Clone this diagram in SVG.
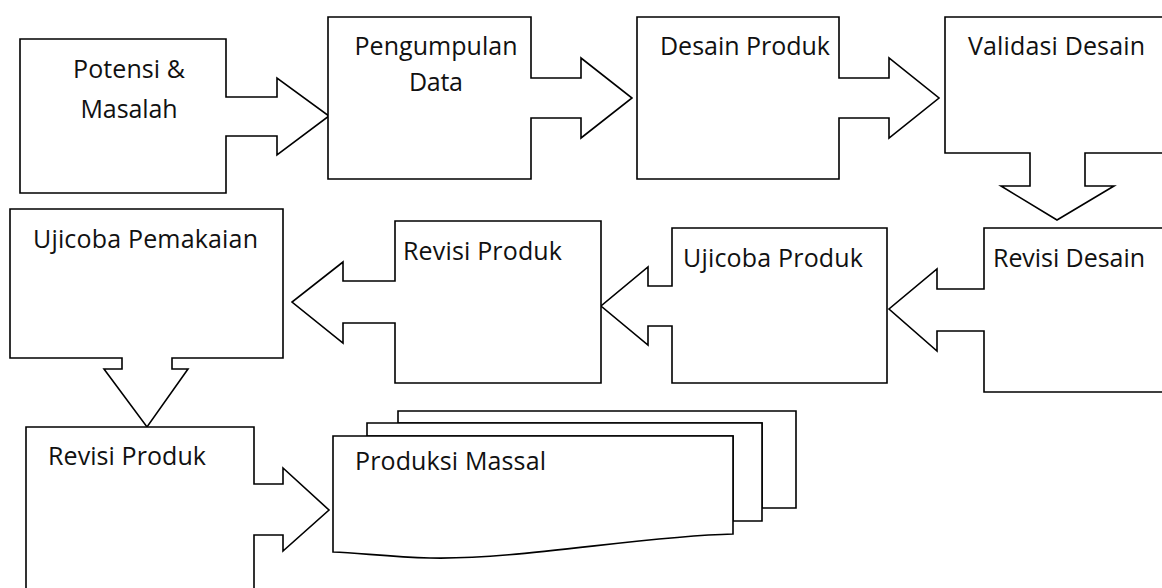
<svg xmlns="http://www.w3.org/2000/svg" width="1162" height="588" viewBox="0 0 1162 588">
<style>
.s{fill:#fff;stroke:#000;stroke-width:1.6;stroke-linejoin:miter}
.t{font-family:"Open Sans","Liberation Sans",sans-serif;font-size:25px;fill:#111}
.m{text-anchor:middle}
</style>
<rect width="1162" height="588" fill="#fff"/>
<g id="connectors"/>
<g id="potensi">
<path class="s" d="M20,39 H226 V97 H277 V78 L329,116 L277,155 V136 H226 V193 H20 Z"/>
<text class="t m" x="129" y="78" textLength="112">Potensi &amp;</text>
<text class="t m" x="129" y="118" textLength="97">Masalah</text>
</g>
<g id="pengumpulan">
<path class="s" d="M328,17 H531 V78 H581 V58 L632,98 L581,138 V118 H531 V179 H328 Z"/>
<text class="t m" x="436" y="55" textLength="163">Pengumpulan</text>
<text class="t m" x="436" y="91" textLength="54">Data</text>
</g>
<g id="desain">
<path class="s" d="M637,17 H839 V78 H889 V58 L939,98 L889,138 V118 H839 V179 H637 Z"/>
<text class="t" x="660" y="55" textLength="170">Desain Produk</text>
</g>
<g id="validasi">
<path class="s" d="M945,17 H1175 V153 H1085 V186 H1114 L1057,220 L1001,186 H1030 V153 H945 Z"/>
<text class="t" x="968" y="55" textLength="177">Validasi Desain</text>
</g>
<g id="revisi-desain">
<path class="s" d="M984,228 H1175 V392 H984 V331 H937 V351 L889,309 L937,269 V289 H984 Z"/>
<text class="t" x="993" y="267" textLength="152">Revisi Desain</text>
</g>
<g id="ujicoba-produk">
<path class="s" d="M672,228 H887 V383 H672 V326 H648 V345 L601,306 L648,267 V286 H672 Z"/>
<text class="t" x="683" y="267" textLength="180">Ujicoba Produk</text>
</g>
<g id="revisi-produk-1">
<path class="s" d="M395,221 H601 V383 H395 V323 H343 V343 L292,302 L343,262 V281 H395 Z"/>
<text class="t" x="403" y="260" textLength="159">Revisi Produk</text>
</g>
<g id="ujicoba-pemakaian">
<path class="s" d="M10,209 H283 V358 H172 V369 H188 L147,427 L104,369 H122 V358 H10 Z"/>
<text class="t" x="33" y="248" textLength="225">Ujicoba Pemakaian</text>
</g>
<g id="revisi-produk-2">
<path class="s" d="M26,427 H254 V484 H283 V468 L329,510 L283,551 V535 H254 V600 H26 Z"/>
<text class="t" x="48" y="465" textLength="158">Revisi Produk</text>
</g>
<g id="produksi-massal">
<path class="s" d="M398,411 H796 V508 H762 V423 H398 Z"/>
<path class="s" d="M367,423 H762 V521 H733 V436 H367 Z"/>
<path class="s" d="M333,436 H733 V534 C640,536 520,560 430,558 C390,557 360,553 333,552 Z"/>
<text class="t" x="355" y="470" textLength="191">Produksi Massal</text>
</g>
</svg>
